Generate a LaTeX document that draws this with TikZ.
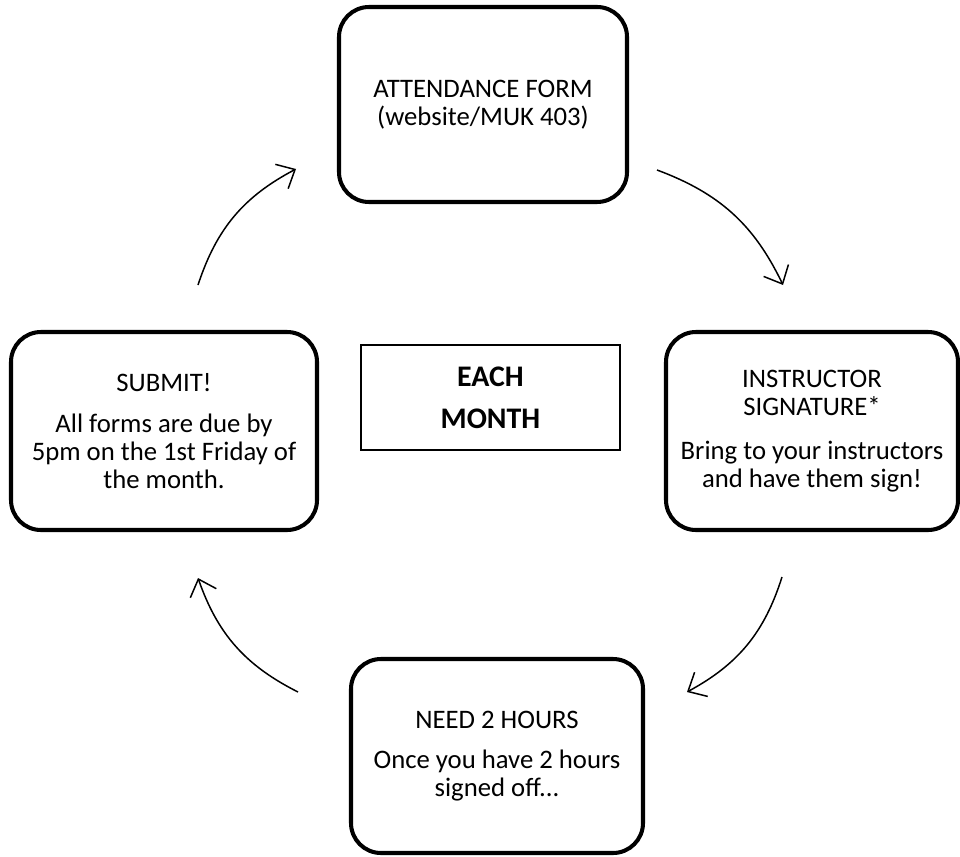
\documentclass[tikz,border=0pt]{standalone}
\usepackage{fontspec}
\setmainfont{Carlito}
\usepackage{tikz}
\usetikzlibrary{positioning,calc,arrows.meta}

\tikzset{
  cyclebox/.style={draw=black, line width=2.3pt, rounded corners=0.6cm, minimum width=5.84cm, minimum height=3.96cm},
  boxtext/.style={align=center, font=\fontsize{15.2}{16}\selectfont},
  cyclearrow/.style={-{Straight Barb[length=0.3cm, width=0.55cm]}, line width=0.85pt, bend left=22},
}

\begin{document}
\begin{tikzpicture}
	\useasboundingbox (0,0) rectangle (19.2,-17.12);
	% the four steps
	\node[cyclebox, minimum width=5.76cm, minimum height=3.9cm] (form) at (9.66,-2.09) {};
	\node[boxtext] (formt) at (form.center) {ATTENDANCE FORM\\(website/MUK 403)};
	
	\node[cyclebox] (sign) at (16.24,-8.62) {};
	\node[boxtext] (signt) at (sign.center) {INSTRUCTOR\\SIGNATURE*\\[9pt]Bring to your instructors\\and have them sign!};
	
	\node[cyclebox, minimum width=6.12cm] (submit) at (3.28,-8.62) {};
	\node[boxtext] (submitt) at (submit.center) {SUBMIT!\\[7pt]All forms are due by\\5pm on the 1st Friday of\\the month.};
	
	\node[cyclebox, minimum height=3.88cm] (hours) at (9.94,-15.12) {};
	\node[boxtext] (hourst) at (hours.center) {NEED 2 HOURS\\[7pt]Once you have 2 hours\\signed off...};
	
	% centre
	\node[draw=black, line width=0.6pt, minimum width=5.18cm, minimum height=2.1cm, align=center, font=\fontsize{17}{24}\selectfont\bfseries] (month) at (9.81,-7.95) {EACH\\MONTH};
	
	% arrows round the cycle
	\coordinate (a1) at (3.96,-5.70);
	\coordinate (a2) at (5.92,-3.38);
	\coordinate (b1) at (13.14,-3.40);
	\coordinate (b2) at (15.66,-5.70);
	\coordinate (c1) at (15.64,-11.54);
	\coordinate (c2) at (13.74,-13.84);
	\coordinate (d1) at (5.96,-13.84);
	\coordinate (d2) at (3.96,-11.56);
	\draw[cyclearrow] (a1) to (a2);
	\draw[cyclearrow] (b1) to (b2);
	\draw[cyclearrow] (c1) to (c2);
	\draw[cyclearrow] (d1) to (d2);
\end{tikzpicture}
\end{document}
